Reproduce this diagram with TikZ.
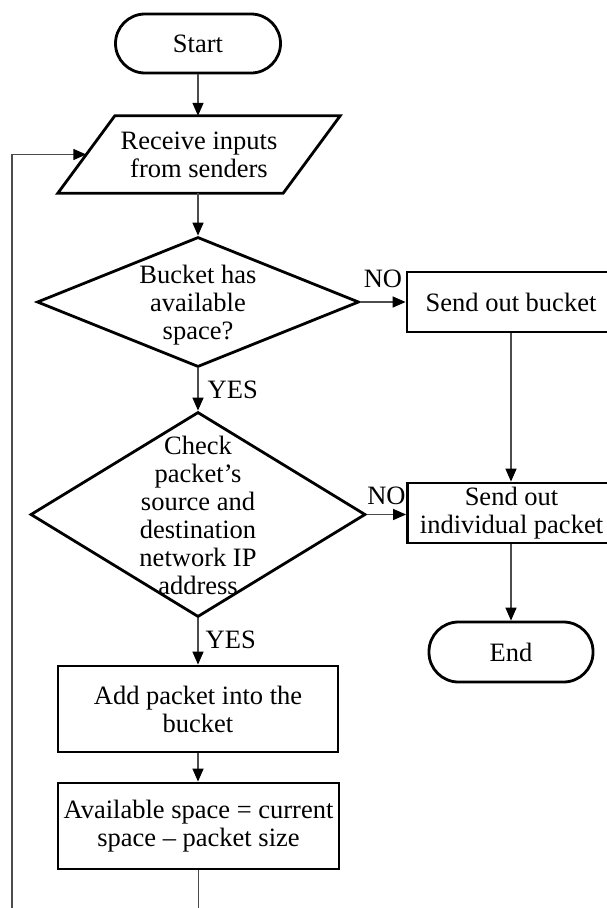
\documentclass[tikz,border=0pt]{standalone}
\usepackage{fontspec}
\setmainfont{Liberation Serif}
\usetikzlibrary{arrows.meta,shapes.geometric}
\begin{document}
\begin{tikzpicture}[x=1pt,y=-1pt,
  every node/.style={font=\fontsize{26.5}{28}\selectfont},
  box/.style={draw=black, line width=2.8pt, rectangle, inner sep=0pt, align=center},
  term/.style={box, rounded corners=29.5pt},
  decision/.style={draw=black, line width=2.8pt, diamond, inner sep=0pt},
  outline/.style={draw=black, line width=2.8pt, line join=miter},
  txt/.style={align=center, inner sep=0pt},
  conn/.style={draw=black!70, line width=1.4pt, -{Triangle[length=13pt,width=11pt,color=black]}},
  lbl/.style={inner sep=0pt},
]
\useasboundingbox (0,0) rectangle (607,908);
\clip (0,0) rectangle (607,908);

% left column
\node[term, minimum width=165pt, minimum height=59pt] (start) at (198,43.5) {Start};
\node[txt, minimum width=225pt, minimum height=77pt] (recv) at (199,154.5) {Receive inputs\\from senders};
\draw[outline] ([xshift=-28.5pt]recv.south west) -- ([xshift=-28.5pt]recv.south east)
  -- ([xshift=28.5pt]recv.north east) -- ([xshift=28.5pt]recv.north west) -- cycle;

\node[decision, minimum width=322pt, minimum height=130pt] (d1) at (198,302) {};
\node[txt] (d1t) at (198,305) {Bucket has\\available\\space?};

\node[decision, minimum width=335pt, minimum height=205pt] (d2) at (198,514.5) {};
\node[txt] (d2t) at (198,515) {Check\\packet’s\\source and\\destination\\network IP\\address};

\node[box, minimum width=280pt, minimum height=86pt] (add) at (198,709) {Add packet into the\\bucket};
\node[box, minimum width=281pt, minimum height=86pt] (avail) at (198.5,826) {Available space = current\\space – packet size};

% right column
\node[box, minimum width=208pt, minimum height=60pt] (sob) at (511,302) {Send out bucket};
\node[box, minimum width=208pt, minimum height=60pt] (sip) at (511.5,513) {Send out\\individual packet};
\node[term, minimum width=164pt, minimum height=60pt] (end) at (511,652) {End};

% connectors
\draw[conn] (start.south) -- (start.south |- recv.north);
\draw[conn] (d1.north |- recv.south) -- (d1.north);
\draw[conn] (d1.south) -- (d2.north)
  node[lbl, midway, anchor=west, xshift=9pt] (yes1) {YES};
\draw[conn] (d1.east) -- (sob.west)
  node[lbl, midway, above=14pt] (no1) {NO};
\draw[conn] (d2.south) -- (add.north)
  node[lbl, midway, anchor=west, xshift=7pt, yshift=2pt] (yes2) {YES};
\draw[conn] (d2.east) -- (d2.east -| sip.west)
  node[lbl, midway, above=9pt] (no2) {NO};
\draw[conn] (add.south) -- (add.south |- avail.north);
\draw[conn] (sob.south) -- (sob.south |- sip.north);
\draw[conn] (sip.south -| end.north) -- (end.north);

% loop back to the input step
\coordinate (loopcorner) at (12,950);
\draw[conn] (avail.south) |- (loopcorner) |- (recv.west);
\end{tikzpicture}
\end{document}
